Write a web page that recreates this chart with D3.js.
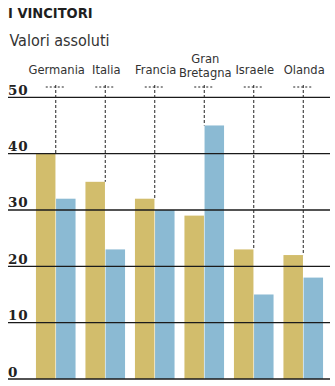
<!DOCTYPE html>
<html>
<head>
<meta charset="utf-8">
<script src="https://cdn.jsdelivr.net/npm/d3@7"></script>
<style>
  html, body { margin: 0; padding: 0; background: #fff; }
  svg { display: block; }
</style>
</head>
<body>
<svg id="chart" width="335" height="386"></svg>
<script>
// Winners by country, absolute counts, two series per country
const categories = ["Germania", "Italia", "Francia", "Gran Bretagna", "Israele", "Olanda"];
const seriesA = [40, 35, 32, 29, 23, 22];
const seriesB = [32, 23, 30, 45, 15, 18];
const tickValues = [0, 10, 20, 30, 40, 50];

const colors = { a: "#d2bd6c", b: "#8bbad3" };

const svg = d3.select("#chart");

const y = d3.scaleLinear().domain([0, 50]).range([379, 97.3]);

const x = d3.scaleBand()
  .domain(categories)
  .range([31, 328])
  .paddingInner(0.2)
  .paddingOuter(0.1);

const xi = d3.scaleBand()
  .domain(["a", "b"])
  .range([0, x.bandwidth()])
  .paddingInner(0.03);

const rows = categories.map((c, i) => ({ cat: c, a: seriesA[i], b: seriesB[i] }));

// Title and subtitle
svg.append("text")
  .attr("x", 8).attr("y", 17.5)
  .attr("font-family", "DejaVu Sans Condensed, DejaVu Sans")
  .attr("font-stretch", "condensed")
  .attr("font-weight", "bold")
  .attr("font-size", 14.5)
  .attr("fill", "#1e1e1e")
  .text("I VINCITORI");

svg.append("text")
  .attr("x", 9.5).attr("y", 45.7)
  .attr("font-family", "DejaVu Sans Condensed, DejaVu Sans")
  .attr("font-stretch", "condensed")
  .attr("font-size", 16)
  .attr("fill", "#333")
  .text("Valori assoluti");

// Bars
const groups = svg.append("g").selectAll("g")
  .data(rows)
  .join("g")
  .attr("transform", d => `translate(${x(d.cat)},0)`);

["a", "b"].forEach(k => {
  groups.append("rect")
    .attr("x", xi(k))
    .attr("width", xi.bandwidth())
    .attr("y", d => y(d[k]))
    .attr("height", d => y(0) - y(d[k]))
    .attr("fill", colors[k]);
});

// Horizontal gridlines drawn over the bars
const yAxis = d3.axisLeft(y).tickValues(tickValues).tickSize(0).tickFormat(d3.format("d"));
const grid = svg.append("g");
grid.selectAll("line")
  .data(tickValues)
  .join("line")
  .attr("x1", 8).attr("x2", 330)
  .attr("y1", d => y(d)).attr("y2", d => y(d))
  .attr("stroke", "#1a1a1a")
  .attr("stroke-width", 1.3);

// Tick labels sitting above each gridline
const axisG = svg.append("g").call(yAxis);
axisG.select(".domain").remove();
axisG.selectAll(".tick text")
  .attr("x", 8)
  .attr("y", 0)
  .attr("dy", "-3")
  .attr("text-anchor", "start")
  .attr("font-family", "DejaVu Serif")
  .attr("font-weight", "bold")
  .attr("font-size", 13.5)
  .attr("letter-spacing", 0.8)
  .attr("fill", "#222");

// Category labels with dashed leaders down to the taller bar
const labelG = svg.append("g")
  .attr("font-family", "DejaVu Sans Condensed, DejaVu Sans")
  .attr("font-stretch", "condensed")
  .attr("font-size", 12.8)
  .attr("fill", "#333")
  .attr("text-anchor", "middle");

rows.forEach(d => {
  const cx = x(d.cat) + x.bandwidth() / 2;
  const words = d.cat.split(" ");
  const t = labelG.append("text").attr("x", cx + 1);
  if (words.length > 1) {
    words.forEach((w, j) => {
      t.append("tspan").attr("x", cx + 1).attr("y", 63 + j * 14).text(w);
    });
  } else {
    t.attr("y", 73.5).text(d.cat);
  }

  svg.append("line")
    .attr("x1", cx - 10).attr("x2", cx + 10)
    .attr("y1", 87).attr("y2", 87)
    .attr("stroke", "#222").attr("stroke-width", 1)
    .attr("stroke-dasharray", "2,2");
  svg.append("line")
    .attr("x1", cx).attr("x2", cx)
    .attr("y1", 85).attr("y2", y(Math.max(d.a, d.b)))
    .attr("stroke", "#222").attr("stroke-width", 1)
    .attr("stroke-dasharray", "3,2");
});
</script>
</body>
</html>
